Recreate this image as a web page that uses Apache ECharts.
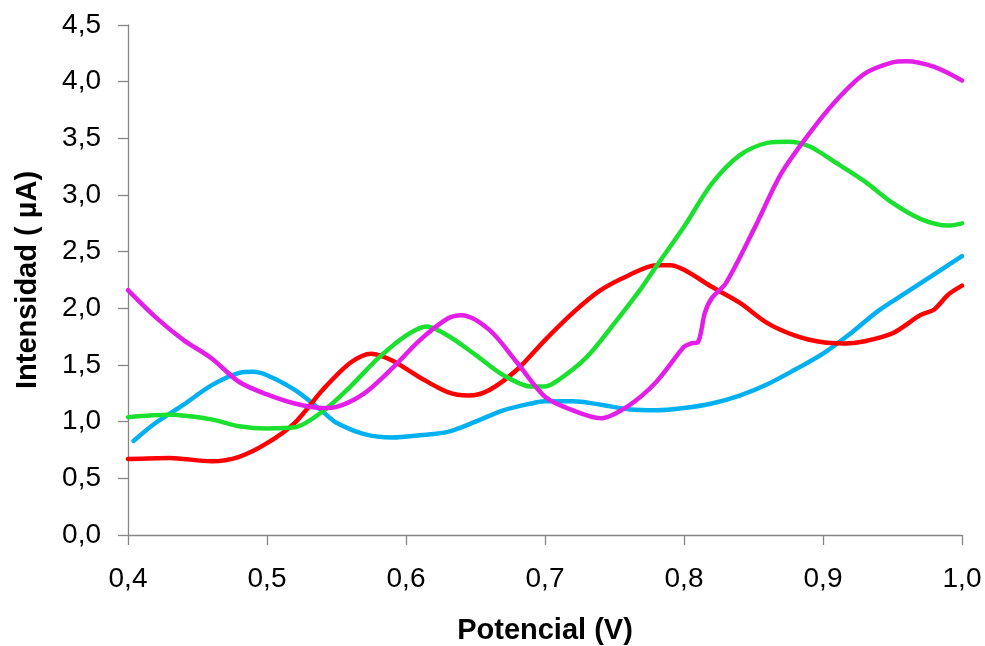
<!DOCTYPE html>
<html>
<head>
<meta charset="utf-8">
<script src="https://cdn.jsdelivr.net/npm/echarts@6/dist/echarts.min.js"></script>
<style>
  html, body { margin: 0; padding: 0; background: #fff; }
  #chart { width: 985px; height: 646px; }
</style>
</head>
<body>
<div id="chart"></div>
<script>
// Voltammetric curves: potential (V) vs current intensity (µA)
const redX = [0.40, 0.43, 0.46, 0.48, 0.50, 0.52, 0.54, 0.56, 0.575, 0.59, 0.61, 0.63, 0.645, 0.66, 0.68, 0.70, 0.72, 0.74, 0.76, 0.78, 0.79, 0.80, 0.82, 0.84, 0.86, 0.88, 0.90, 0.915, 0.93, 0.95, 0.97, 0.98, 0.99, 1.00];
const redY = [0.67, 0.68, 0.65, 0.69, 0.81, 0.99, 1.28, 1.52, 1.60, 1.54, 1.39, 1.26, 1.23, 1.28, 1.46, 1.72, 1.96, 2.16, 2.29, 2.38, 2.38, 2.34, 2.19, 2.05, 1.87, 1.76, 1.70, 1.69, 1.71, 1.78, 1.94, 1.99, 2.12, 2.20];

const greenX = [0.40, 0.43, 0.46, 0.48, 0.50, 0.52, 0.54, 0.56, 0.58, 0.60, 0.615, 0.63, 0.65, 0.67, 0.69, 0.70, 0.71, 0.73, 0.75, 0.77, 0.78, 0.80, 0.82, 0.84, 0.86, 0.875, 0.89, 0.91, 0.93, 0.95, 0.97, 0.99, 1.00];
const greenY = [1.04, 1.06, 1.02, 0.96, 0.94, 0.95, 1.09, 1.31, 1.56, 1.76, 1.84, 1.76, 1.59, 1.41, 1.31, 1.31, 1.37, 1.57, 1.87, 2.19, 2.37, 2.72, 3.10, 3.35, 3.46, 3.47, 3.43, 3.28, 3.12, 2.93, 2.79, 2.73, 2.75];

const blueX = [0.404, 0.42, 0.44, 0.46, 0.48, 0.49, 0.50, 0.52, 0.54, 0.55, 0.57, 0.59, 0.61, 0.63, 0.65, 0.67, 0.69, 0.70, 0.72, 0.74, 0.76, 0.78, 0.80, 0.82, 0.84, 0.86, 0.88, 0.90, 0.92, 0.94, 0.96, 0.98, 1.00];
const blueY = [0.83, 0.99, 1.15, 1.32, 1.43, 1.44, 1.41, 1.28, 1.09, 0.99, 0.89, 0.86, 0.88, 0.91, 1.00, 1.10, 1.16, 1.18, 1.18, 1.15, 1.11, 1.10, 1.12, 1.16, 1.23, 1.33, 1.46, 1.60, 1.78, 1.98, 2.14, 2.30, 2.46];

const magentaX = [0.40, 0.42, 0.44, 0.46, 0.48, 0.50, 0.52, 0.54, 0.55, 0.57, 0.59, 0.61, 0.63, 0.64, 0.66, 0.68, 0.70, 0.72, 0.74, 0.76, 0.78, 0.80, 0.805, 0.81, 0.815, 0.82, 0.83, 0.85, 0.87, 0.89, 0.91, 0.93, 0.95, 0.96, 0.98, 1.00];
const magentaY = [2.16, 1.92, 1.72, 1.56, 1.35, 1.24, 1.16, 1.12, 1.13, 1.25, 1.47, 1.72, 1.91, 1.94, 1.81, 1.52, 1.22, 1.10, 1.03, 1.14, 1.35, 1.66, 1.69, 1.70, 1.96, 2.09, 2.22, 2.69, 3.19, 3.54, 3.84, 4.07, 4.17, 4.18, 4.13, 4.01];

const xTicks = { min: 0.4, max: 1.0, interval: 0.1 };
const yTicks = { min: 0, max: 4.5, interval: 0.5 };

const pairs = (xs, ys) => xs.map((x, i) => [x, ys[i]]);
const comma = v => v.toFixed(1).replace('.', ',');

const font = 'Liberation Sans, Arial, sans-serif';
const axisGray = '#868686';
const curves = [
  { name: 'Blue', color: '#00B0F0', data: pairs(blueX, blueY) },
  { name: 'Red', color: '#FF0000', data: pairs(redX, redY) },
  { name: 'Green', color: '#1CE030', data: pairs(greenX, greenY) },
  { name: 'Magenta', color: '#E21EE8', data: pairs(magentaX, magentaY) }
];

const chart = echarts.init(document.getElementById('chart'), null, { renderer: 'canvas' });
chart.setOption({
  animation: false,
  backgroundColor: '#ffffff',
  grid: { left: 128, right: 23, top: 25, bottom: 111, containLabel: false, outerBoundsMode: 'none' },
  xAxis: {
    type: 'value',
    min: xTicks.min, max: xTicks.max, interval: xTicks.interval,
    name: 'Potencial (V)',
    nameLocation: 'middle',
    nameGap: 81,
    nameTextStyle: { fontFamily: font, fontSize: 29, fontWeight: 'bold', color: '#000' },
    axisLine: { show: true, lineStyle: { color: axisGray, width: 1.3 } },
    axisTick: { show: true, inside: false, length: 10, lineStyle: { color: axisGray, width: 1.3 } },
    splitLine: { show: false },
    axisLabel: { margin: 30, fontFamily: font, fontSize: 28, color: '#000', formatter: comma }
  },
  yAxis: {
    type: 'value',
    min: yTicks.min, max: yTicks.max, interval: yTicks.interval,
    name: 'Intensidad ( µA)',
    nameLocation: 'middle',
    nameGap: 86,
    nameRotate: 90,
    nameTextStyle: { fontFamily: font, fontSize: 29, fontWeight: 'bold', color: '#000' },
    axisLine: { show: true, lineStyle: { color: axisGray, width: 1.3 } },
    axisTick: { show: true, inside: false, length: 10, lineStyle: { color: axisGray, width: 1.3 } },
    splitLine: { show: false },
    axisLabel: { margin: 27, fontFamily: font, fontSize: 28, color: '#000', formatter: comma }
  },
  series: curves.map(c => ({
    name: c.name,
    type: 'line',
    data: c.data,
    smooth: 0.3,
    showSymbol: false,
    clip: true,
    lineStyle: { color: c.color, width: 4.5, cap: 'round', join: 'round' },
    itemStyle: { color: c.color }
  }))
});
</script>
</body>
</html>
